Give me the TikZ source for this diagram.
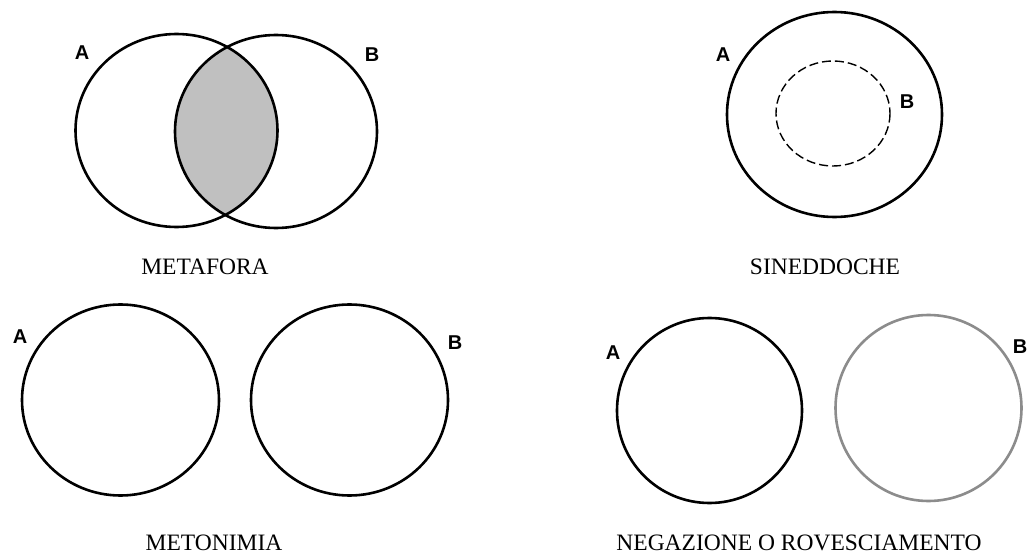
\documentclass[tikz,border=0pt]{standalone}
\usepackage{fontspec}
\setmainfont{Liberation Serif}
\newfontfamily\labfont{Liberation Sans}
\begin{document}
\begin{tikzpicture}[x=1pt,y=-1pt,
  ring/.style={line width=2.6pt,draw=black},
  greyring/.style={line width=2.6pt,draw=ringgrey},
  dashring/.style={line width=1.4pt,draw=black,dash pattern=on 9pt off 4pt},
  setlab/.style={font=\labfont\bfseries\fontsize{20}{20}\selectfont,inner sep=0pt},
  caption/.style={font=\fontsize{23.5}{26}\selectfont,inner sep=0pt}]
\definecolor{ringgrey}{RGB}{140,140,140}
\definecolor{lensgrey}{RGB}{192,192,192}
\useasboundingbox (0,0) rectangle (1029,556);
\fill[white] (0,0) rectangle (1029,556);
% METAFORA
\begin{scope}
  \clip (176.5,130.5) ellipse [x radius=101, y radius=96.5];
  \fill[lensgrey] (276,131.5) ellipse [x radius=101, y radius=96.5];
\end{scope}
\draw[ring] (176.5,130.5) ellipse [x radius=101, y radius=96.5];
\draw[ring] (276,131.5) ellipse [x radius=101, y radius=96.5];
\node[setlab] (ma) at (82,53) {A};
\node[setlab] (mb) at (372,55) {B};
\node[caption] (metafora) at (205,267) {METAFORA};
% SINEDDOCHE
\draw[ring] (834.5,114.5) ellipse [x radius=107.5, y radius=102.5];
\draw[dashring] (833,113.5) ellipse [x radius=57, y radius=52.5];
\node[setlab] (sa) at (723,55) {A};
\node[setlab] (sb) at (907,102) {B};
\node[caption] (sineddoche) at (825,267) {SINEDDOCHE};
% METONIMIA
\draw[ring] (120.5,400) ellipse [x radius=98.5, y radius=95.5];
\draw[ring] (349.5,400) ellipse [x radius=98.5, y radius=95.5];
\node[setlab] (ta) at (20,337) {A};
\node[setlab] (tb) at (455,343) {B};
\node[caption] (metonimia) at (214,543) {METONIMIA};
% NEGAZIONE
\draw[ring] (709.5,410.5) ellipse [x radius=92.5, y radius=92.5];
\draw[greyring] (928.5,408) ellipse [x radius=93, y radius=93];
\node[setlab] (na) at (613,353) {A};
\node[setlab] (nb) at (1020,347) {B};
\node[caption] (negazione) at (799,543) {NEGAZIONE O ROVESCIAMENTO};
\end{tikzpicture}
\end{document}
